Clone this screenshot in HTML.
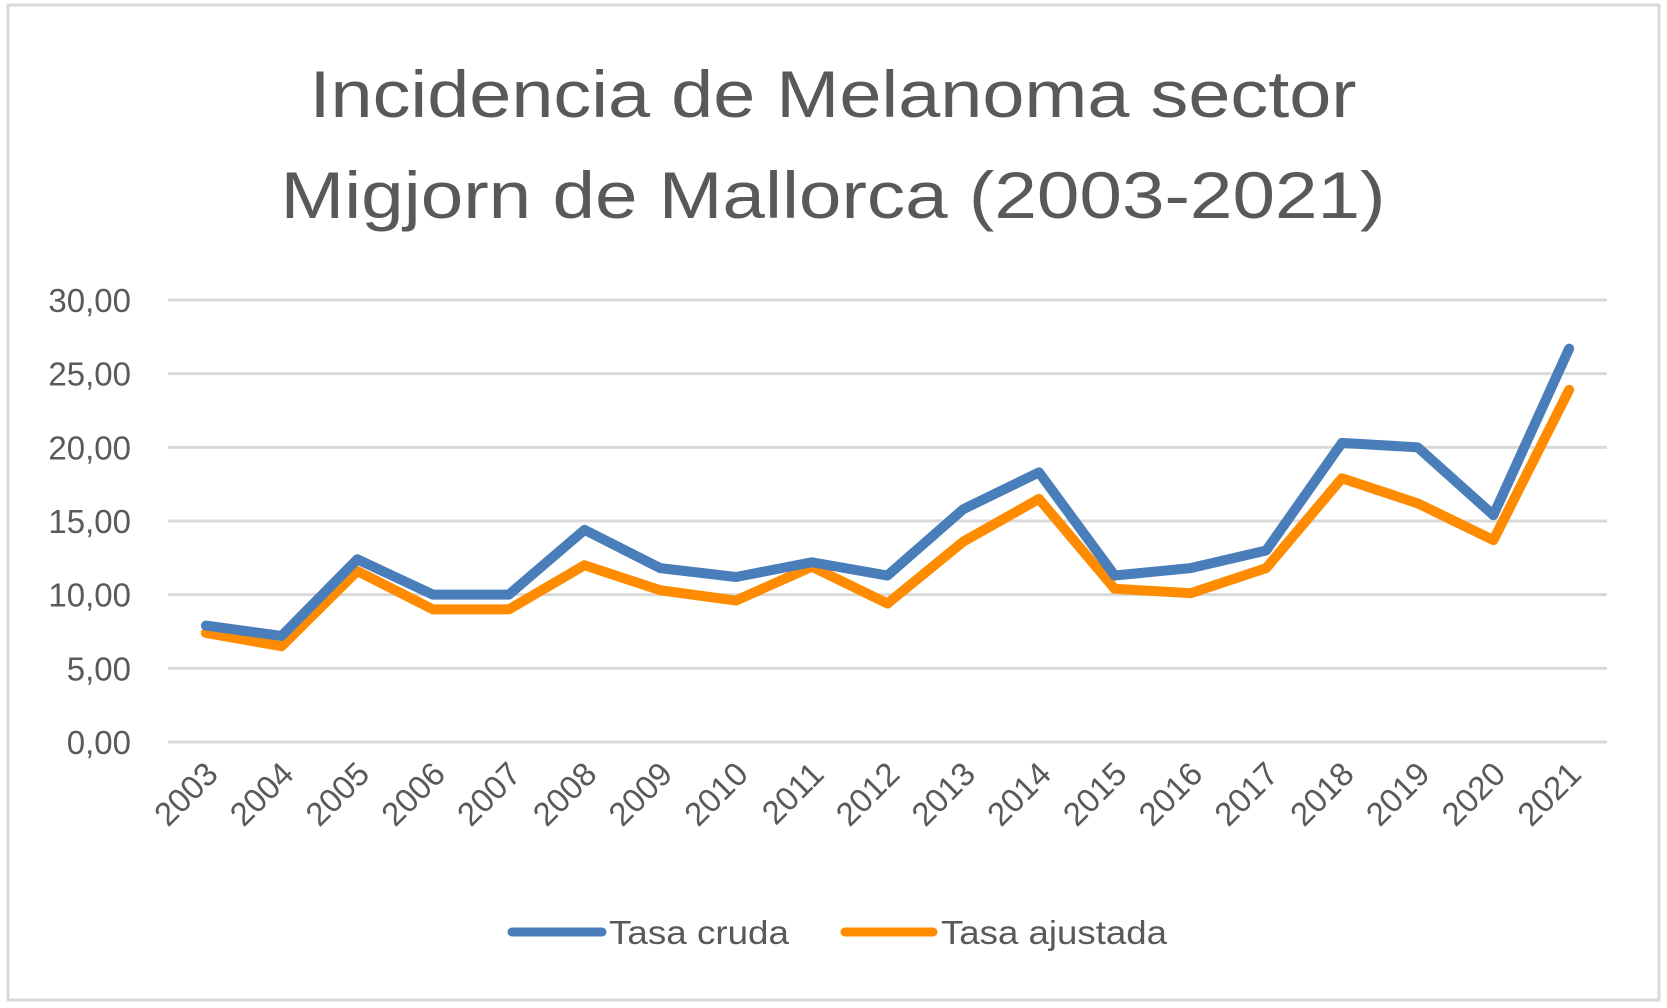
<!DOCTYPE html>
<html><head><meta charset="utf-8"><style>
html,body{margin:0;padding:0;background:#fff;}
svg{display:block;}
text{font-family:"Liberation Sans",sans-serif;fill:#595959;}
</style></head><body>
<svg id="chart" width="1667" height="1008" viewBox="0 0 1667 1008">
<rect x="8" y="5" width="1651" height="995" fill="#fff" stroke="#d9d9d9" stroke-width="3"/>
<text x="833" y="117" text-anchor="middle" font-size="66" textLength="1047" lengthAdjust="spacingAndGlyphs">Incidencia de Melanoma sector</text>
<text x="833" y="218" text-anchor="middle" font-size="66" textLength="1105" lengthAdjust="spacingAndGlyphs">Migjorn de Mallorca (2003-2021)</text>
<g id="grid"></g>
<g id="ylabels"></g>
<g id="xlabels"></g>
<g id="series"></g>
<g>
<line x1="512" y1="932" x2="602" y2="932" stroke="#4a7ebb" stroke-width="9" stroke-linecap="round"/>
<text x="609" y="944" font-size="33" textLength="180" lengthAdjust="spacingAndGlyphs">Tasa cruda</text>
<line x1="845" y1="932" x2="933" y2="932" stroke="#ff8c00" stroke-width="9" stroke-linecap="round"/>
<text x="941" y="944" font-size="33" textLength="226" lengthAdjust="spacingAndGlyphs">Tasa ajustada</text>
</g>
</svg>
<script>
const years = ["2003","2004","2005","2006","2007","2008","2009","2010","2011","2012","2013","2014","2015","2016","2017","2018","2019","2020","2021"];
const tasaCruda = [7.9,7.2,12.4,10.0,10.0,14.4,11.8,11.2,12.2,11.3,15.8,18.3,11.3,11.8,13.0,20.3,20.0,15.4,26.7];
const tasaAjustada = [7.4,6.5,11.6,9.0,9.0,12.0,10.3,9.6,11.9,9.4,13.6,16.5,10.4,10.1,11.8,17.9,16.2,13.7,23.9];
const yTicks = [0,5,10,15,20,25,30];
const yTickLabels = ["0,00","5,00","10,00","15,00","20,00","25,00","30,00"];

const NS = "http://www.w3.org/2000/svg";
const L = 168, R = 1607, T = 300, B = 742, YMAX = 30;
const step = (R - L) / years.length;
const xs = i => L + step * (i + 0.5);
const ys = v => B - (v / YMAX) * (B - T);
function mk(tag, attrs, parent){const e=document.createElementNS(NS,tag);for(const k in attrs)e.setAttribute(k,attrs[k]);parent.appendChild(e);return e;}
const grid = document.getElementById('grid'), yl = document.getElementById('ylabels'), xl = document.getElementById('xlabels'), ser = document.getElementById('series');
yTicks.forEach((t,i)=>{
  const g = mk('line',{x1:L,x2:R,y1:ys(t),y2:ys(t),stroke:'#d9d9d9','stroke-width':3},grid);
  
  
  const tx = mk('text',{x:131,y:ys(t)+12,'text-anchor':'end','font-size':33},yl);
  tx.textContent = yTickLabels[i];
  
  
});
years.forEach((yr,i)=>{
  const x = xs(i)+14, y = 776;
  const tx = mk('text',{x:x,y:y,'text-anchor':'end','font-size':33,transform:`rotate(-45 ${x} ${y})`},xl);
  tx.textContent = yr;
  
  
});
function drawLine(vals,color,name){
  const pts = vals.map((v,i)=>xs(i)+','+ys(v)).join(' ');
  const p = mk('polyline',{points:pts,fill:'none',stroke:color,'stroke-width':10,'stroke-linejoin':'round','stroke-linecap':'round'},ser);
  
  
}
drawLine(tasaAjustada,'#ff8c00','series-tasa-ajustada');
drawLine(tasaCruda,'#4a7ebb','series-tasa-cruda');
</script>
</body></html>
